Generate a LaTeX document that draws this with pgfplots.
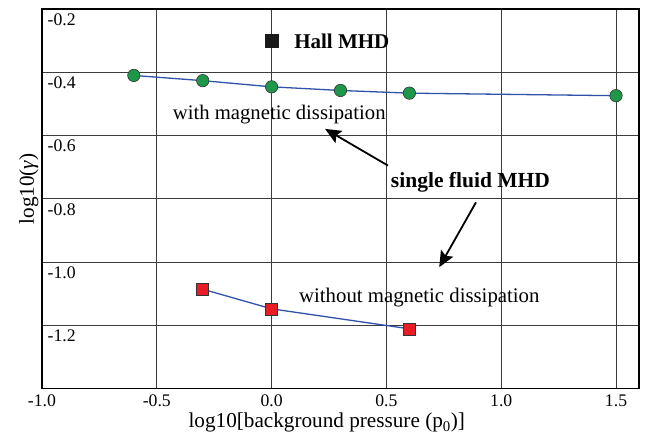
\documentclass[border=0pt]{standalone}
\usepackage{fontspec}
\setmainfont{Liberation Serif}
\usepackage{pgfplots}
\pgfplotsset{compat=1.18}
\usetikzlibrary{arrows.meta}
\definecolor{mygreen}{RGB}{30,152,72}
\definecolor{myred}{RGB}{232,28,36}
\definecolor{myblue}{RGB}{48,82,168}
\definecolor{gridc}{RGB}{60,60,60}
\begin{document}
\begin{tikzpicture}
\begin{axis}[
 scale only axis, width=597pt, height=379.7pt,
 xmin=-1, xmax=1.6, ymin=-1.4, ymax=-0.2,
 xtick={-1,-0.5,0,0.5,1,1.5}, xticklabels={-1.0,-0.5,0.0,0.5,1.0,1.5},
 ytick={-1.2,-1,-0.8,-0.6,-0.4,-0.2}, yticklabels={-1.2,-1.0,-0.8,-0.6,-0.4,-0.2},
 grid=major, major grid style={gridc, line width=0.8pt},
 major tick length=0pt,
 axis line style={black, line width=1.2pt},
 tick label style={font=\fontsize{17.7}{20}\selectfont},
 xticklabel style={anchor=north, inner sep=0pt, yshift=-6.3pt},
 yticklabel style={anchor=north west, inner sep=0pt, xshift=5.5pt, yshift=-4.3pt},
 xlabel={log10[background pressure (p\textsubscript{0})]},
 ylabel={log10({\itshape γ})},
 label style={font=\fontsize{21.2}{24}\selectfont},
 xlabel style={at={(axis description cs:0.477,-0.1035)}, anchor=base},
 ylabel style={at={(axis description cs:0,0.526)}, anchor=south},
 clip=false,
]
\addplot[myblue, line width=1.3pt, mark=*, mark size=6.2pt, mark options={fill=mygreen, draw=black!80, line width=0.6pt}] coordinates {(-0.6,-0.410) (-0.3,-0.4265) (0,-0.446) (0.3,-0.4575) (0.6,-0.466) (1.5,-0.474)};
\addplot[myblue, line width=1.3pt, mark=square*, mark size=6.0pt, mark options={fill=myred, draw=black!80, line width=0.6pt, rounded corners=2.5pt}] coordinates {(-0.3,-1.0856) (0,-1.1476) (0.6,-1.2108)};
\addplot[only marks, mark=square*, mark size=6.4pt, mark options={fill=black!90, draw=black!90}] coordinates {(0,-0.301)};
\node[anchor=base west, font=\fontsize{21}{24}\selectfont\bfseries, inner sep=0pt] at (axis cs:0.098,-0.325) {Hall MHD};
\node[anchor=base west, font=\fontsize{20.7}{24}\selectfont, inner sep=0pt] at (axis cs:-0.431,-0.548) {with magnetic dissipation};
\node[anchor=base west, font=\fontsize{20.8}{24}\selectfont, inner sep=0pt] at (axis cs:0.119,-1.1267) {without magnetic dissipation};
\node[anchor=base west, font=\fontsize{21.5}{24}\selectfont\bfseries, inner sep=0pt] at (axis cs:0.519,-0.763) {single fluid MHD};
\draw[line width=1.8pt, -{Stealth[length=16pt, width=14pt, inset=3pt]}] (axis cs:0.507,-0.695) -- (axis cs:0.233,-0.579);
\draw[line width=1.8pt, -{Stealth[length=16pt, width=14pt, inset=3pt]}] (axis cs:0.890,-0.811) -- (axis cs:0.730,-1.016);
\end{axis}
\pgfresetboundingbox
\path[use as bounding box] ([shift={(-42pt,-54.3pt)}]current axis.south west) rectangle ([shift={(10pt,9pt)}]current axis.north east);
\end{tikzpicture}
\end{document}
